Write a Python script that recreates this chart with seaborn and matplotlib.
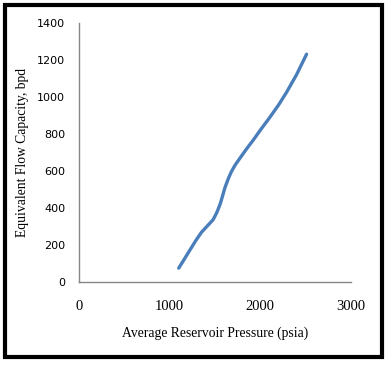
import matplotlib
matplotlib.use("Agg")
import matplotlib.pyplot as plt
import seaborn as sns
import pandas as pd
from matplotlib.patches import Rectangle

# values
pressure = [1100, 1160, 1220, 1290, 1350, 1420, 1480, 1520, 1560, 1610, 1650,
            1680, 1720, 1780, 1850, 1920, 2000, 2100, 2200, 2290, 2400, 2510]
capacity = [75, 122, 170, 225, 268, 305, 337, 375, 425, 510, 562,
            595, 630, 672, 720, 765, 820, 886, 955, 1025, 1120, 1230]
x_ticks = [0, 1000, 2000, 3000]
y_ticks = [0, 200, 400, 600, 800, 1000, 1200, 1400]

df = pd.DataFrame({"pressure": pressure, "capacity": capacity})

sns.set_style("white")
W, H = 386, 365
fig = plt.figure(figsize=(W / 100, H / 100), dpi=100)
ax = fig.add_axes([79 / W, 1 - 282 / H, (351 - 79) / W, (282 - 22.7) / H])

sns.lineplot(data=df, x="pressure", y="capacity", sort=False, color="#4A7EBB",
             linewidth=2.4, ax=ax)

ax.set_xlim(0, 3000)
ax.set_ylim(0, 1400)
ax.set_xticks(x_ticks)
ax.set_yticks(y_ticks)
ax.set_xticklabels([str(t) for t in x_ticks], fontfamily="Liberation Serif",
                   fontsize=10.5, color="black")
ax.set_yticklabels([str(t) for t in y_ticks], fontfamily="DejaVu Sans",
                   fontsize=8, color="black")

for side in ["top", "right"]:
    ax.spines[side].set_visible(False)
for side in ["left", "bottom"]:
    ax.spines[side].set_color("#868686")
    ax.spines[side].set_linewidth(1)

ax.tick_params(axis="x", direction="out", length=4, width=1, color="#868686", pad=9)
ax.tick_params(axis="y", direction="out", length=4, width=1, color="#868686", pad=6)

ax.set_xlabel("Average Reservoir Pressure (psia)", fontfamily="Liberation Serif",
              fontsize=9.8, labelpad=10, color="black")
ax.set_ylabel("Equivalent Flow Capacity, bpd", fontfamily="Liberation Serif",
              fontsize=9.8, color="black")
ax.yaxis.set_label_coords(-(79 - 29) / (351 - 79), 0.5)

# black frame around the figure
fig.patches.append(Rectangle((5 / W, 1 - 357 / H), (382 - 5) / W, (357 - 5) / H,
                             transform=fig.transFigure, fill=False,
                             edgecolor="black", linewidth=3))

fig.savefig("out.png", dpi=100)
